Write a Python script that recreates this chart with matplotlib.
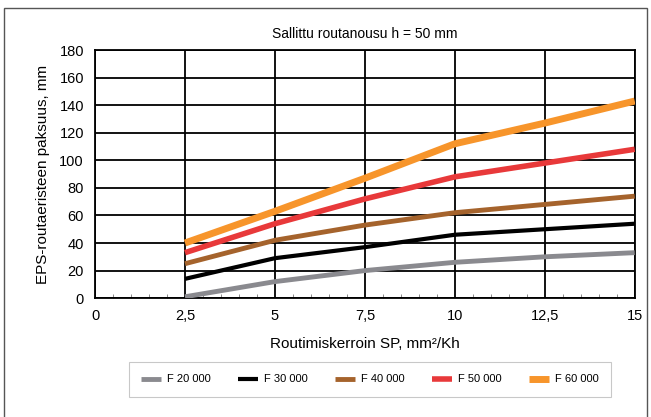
import matplotlib
matplotlib.use("Agg")
import matplotlib.pyplot as plt
from matplotlib.patches import Rectangle
from matplotlib.ticker import MultipleLocator, FuncFormatter

# Routimiskerroin SP (mm²/Kh)
sp = [2.5, 5, 7.5, 10, 12.5, 15]

# EPS thickness (mm) per frost amount
f20 = [1, 12, 20, 26, 30, 33]
f30 = [14, 29, 37, 46, 50, 54]
f40 = [25, 42, 53, 62, 68, 74]
f50 = [33, 54, 72, 88, 98, 108]
f60 = [40, 63, 87, 112, 127, 143]

labels = ["F 20 000", "F 30 000", "F 40 000", "F 50 000", "F 60 000"]
colors = ["#8a8a8f", "#000000", "#a5632c", "#e8393a", "#f7952b"]
widths = [3.5, 3.0, 3.5, 4.0, 5.0]

plt.rcParams['font.family'] = ['Liberation Sans', 'DejaVu Sans']

fig = plt.figure(figsize=(6.51, 4.17), dpi=100)
fig.patches.append(Rectangle((0.006, -0.01), 0.988, 0.99, transform=fig.transFigure,
                             fill=False, edgecolor="#555555", linewidth=1.0))

ax = fig.add_axes([0.146, 0.285, 0.829, 0.595])

for ys, lab, c, lw in zip([f20, f30, f40, f50, f60], labels, colors, widths):
    ax.plot(sp, ys, color=c, linewidth=lw, label=lab, solid_capstyle="butt", zorder=3)

ax.set_xlim(0, 15)
ax.set_ylim(0, 180)
ax.xaxis.set_major_locator(MultipleLocator(2.5))
ax.xaxis.set_minor_locator(MultipleLocator(0.5))
ax.yaxis.set_major_locator(MultipleLocator(20))
ax.xaxis.set_major_formatter(FuncFormatter(lambda v, p: ("%g" % v).replace(".", ",")))

ax.grid(True, which="major", color="black", linewidth=1.3)
ax.set_axisbelow(True)
for s in ax.spines.values():
    s.set_linewidth(1.3)
ax.tick_params(axis="both", which="major", length=0, labelsize=10.5, pad=8)
ax.tick_params(axis="x", which="minor", direction="in", length=3, color="#777777")

ax.set_title("Sallittu routanousu h = 50 mm", fontsize=10, pad=9)
ax.set_xlabel("Routimiskerroin SP, mm²/Kh", fontsize=11, labelpad=10)
ax.set_ylabel("EPS-routaeristeen paksuus, mm", fontsize=11, labelpad=7)

leg = fig.legend(loc="center", bbox_to_anchor=(0.568, 0.09), ncol=5, fontsize=8,
                 handlelength=1.8, handletextpad=0.5, columnspacing=2.5, borderpad=1.1,
                 fancybox=False, edgecolor="#bbbbbb")
leg.get_frame().set_linewidth(0.8)

fig.savefig("out.png", dpi=100)
